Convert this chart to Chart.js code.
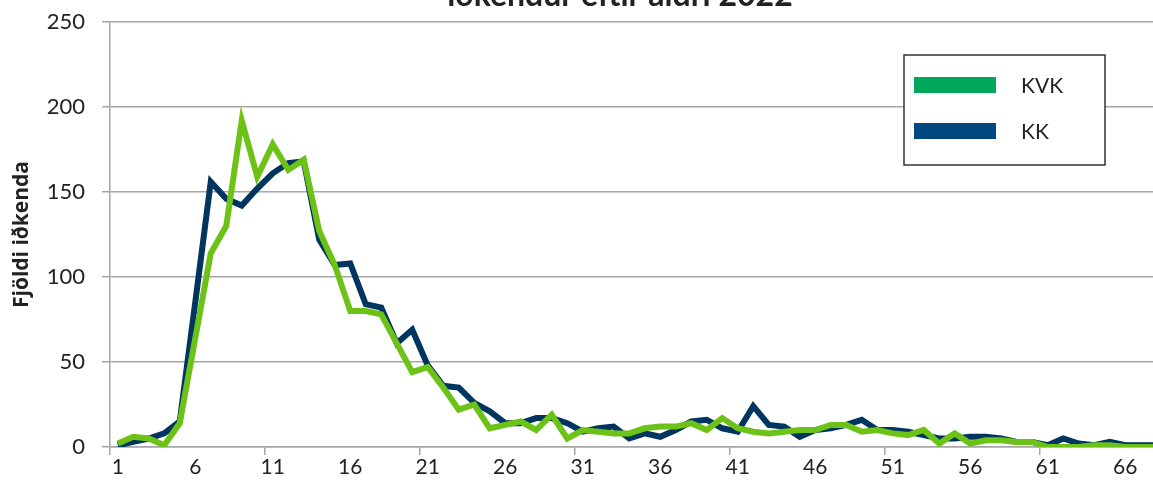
<!DOCTYPE html>
<html>
<head>
<meta charset="utf-8">
<script src="https://cdn.jsdelivr.net/npm/chart.js@4/dist/chart.umd.min.js"></script>
<style>
  html, body { margin: 0; padding: 0; background: #fff; }
  body { width: 1153px; height: 492px; overflow: hidden; position: relative; }
  #c { position: absolute; left: 0; top: -40px; }
</style>
</head>
<body>
<canvas id="c" width="1240" height="540"></canvas>
<script>
const ages = [1,2,3,4,5,6,7,8,9,10,11,12,13,14,15,16,17,18,19,20,21,22,23,24,25,26,27,28,29,30,
  31,32,33,34,35,36,37,38,39,40,41,42,43,44,45,46,47,48,49,50,51,52,53,54,55,56,57,58,59,60,
  61,62,63,64,65,66,67,68];
const kvk = [2,6,5,1,14,64,114,130,192,159,178,163,169,127,107,80,80,78,61,44,
  47,35,22,25,11,13,15,10,19,5,10,9,8,8,11,12,12,14,10,17,
  11,9,8,9,10,10,13,13,9,10,8,7,10,2,8,2,4,4,3,3,
  0,0,0,1,1,0,0,0];
const kk = [1,3,5,8,15,85,156,146,142,152,161,167,168,122,107,108,84,82,61,69,
  48,36,35,26,21,14,14,17,17,14,9,11,12,5,8,6,10,15,16,11,
  9,24,13,12,6,10,11,13,16,10,10,9,7,5,5,6,6,5,3,3,
  1,5,2,1,3,1,1,1];
const seriesNames = ['KVK', 'KK'];
const yTicks = [0, 50, 100, 150, 200, 250];
const titleText = 'iðkendur eftir aldri 2022';
const yTitle = 'Fjöldi iðkenda';

const lineColors = ['#6dc217', '#003560'];
const legendColors = ['#00a859', '#00487e'];
const gridColor = '#a6a6a6';
const FONT = 'Lato, "Open Sans", sans-serif';
const OFF = 40; // canvas is shifted up by this many pixels

const legendBox = {
  id: 'legendBox',
  afterDatasetsDraw(chart) {
    const ctx = chart.ctx;
    ctx.save();
    const x0 = 904, y0 = 55 + OFF, w = 201, h = 110;
    ctx.fillStyle = '#fff';
    ctx.fillRect(x0, y0, w, h);
    ctx.strokeStyle = '#333';
    ctx.lineWidth = 1.5;
    ctx.strokeRect(x0, y0, w, h);
    const rows = [85 + OFF, 131 + OFF];
    chart.data.datasets.forEach((ds, i) => {
      ctx.fillStyle = legendColors[i];
      ctx.fillRect(914, rows[i] - 8, 82, 16);
      ctx.fillStyle = '#222';
      ctx.font = '21px ' + FONT;
      ctx.textBaseline = 'middle';
      ctx.textAlign = 'left';
      ctx.fillText(ds.label, 1021, rows[i] + 1);
    });
    ctx.restore();
  }
};

new Chart(document.getElementById('c'), {
  type: 'line',
  data: {
    labels: ages,
    datasets: [
      { label: seriesNames[0], data: kvk, borderColor: lineColors[0], backgroundColor: lineColors[0],
        borderWidth: 6, pointRadius: 0, pointHoverRadius: 0, tension: 0, fill: false, yAxisID: 'y' },
      { label: seriesNames[1], data: kk, borderColor: lineColors[1], backgroundColor: lineColors[1],
        borderWidth: 6, pointRadius: 0, pointHoverRadius: 0, tension: 0, fill: false, yAxisID: 'y' }
    ]
  },
  options: {
    responsive: false,
    animation: false,
    devicePixelRatio: 1,
    layout: { padding: 0 },
    plugins: {
      legend: { display: false },
      tooltip: { enabled: false },
      title: {
        display: true,
        text: titleText,
        color: '#222',
        font: { family: FONT, size: 32, weight: 'bold', lineHeight: 1.2 },
        padding: { top: 16, bottom: 7.6 }
      }
    },
    scales: {
      x: {
        type: 'category',
        offset: true,
        afterFit(scale) { scale.height = 53; },
        grid: {
          display: true,
          drawOnChartArea: false,
          drawTicks: true,
          tickLength: 8,
          offset: true,
          lineWidth: 1.5,
          color: (c) => (c.index % 10 === 0 ? gridColor : 'rgba(0,0,0,0)')
        },
        border: { display: true, color: gridColor, width: 1.5 },
        ticks: {
          autoSkip: false,
          maxRotation: 0,
          minRotation: 0,
          padding: 0,
          color: '#222',
          font: { family: FONT, size: 21 },
          callback: (v, i) => (i % 5 === 0 ? String(ages[i]) : '')
        }
      },
      y: {
        position: 'left',
        min: yTicks[0],
        max: yTicks[yTicks.length - 1],
        afterFit(scale) { scale.width = 110; },
        afterBuildTicks(scale) { scale.ticks = yTicks.map(v => ({ value: v })); },
        grid: { color: gridColor, lineWidth: 1.5, tickLength: 8, drawTicks: true },
        border: { display: true, color: gridColor, width: 1.5 },
        ticks: {
          padding: 17,
          color: '#222',
          font: { family: FONT, size: 22 }
        },
        title: {
          display: true,
          text: yTitle,
          color: '#222',
          font: { family: '"Open Sans", Lato, sans-serif', size: 21, weight: 'bold', lineHeight: 1.2 },
          padding: { top: 9.5, bottom: 0 }
        }
      },
      yRight: {
        position: 'right',
        min: yTicks[0],
        max: yTicks[yTicks.length - 1],
        afterFit(scale) { scale.width = 76; },
        grid: { display: false, drawOnChartArea: false },
        border: { display: false },
        ticks: { display: false }
      }
    }
  },
  plugins: [legendBox]
});
</script>
</body>
</html>
